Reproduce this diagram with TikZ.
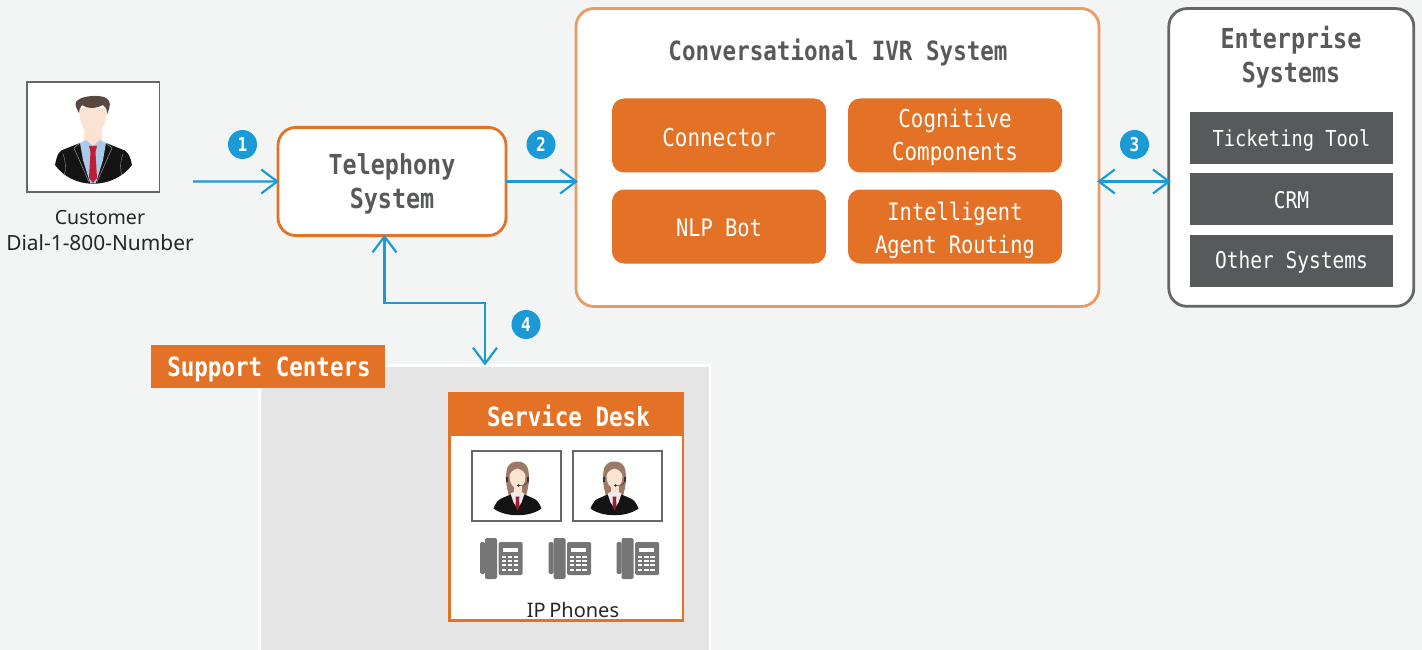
\documentclass[tikz,border=0pt]{standalone}
\usepackage{fontspec}
\setmainfont{Noto Sans}
\newfontfamily\dispfont[FakeStretch=0.85]{DejaVu Sans Mono}
\usetikzlibrary{arrows.meta}
\definecolor{pagebg}{HTML}{F3F5F4}
\definecolor{orng}{HTML}{E37227}
\definecolor{orngsoft}{HTML}{EA9A62}
\definecolor{blueline}{HTML}{1B9AD6}
\definecolor{slate}{HTML}{58595B}
\definecolor{framegrey}{HTML}{666666}
\definecolor{supportbg}{HTML}{E5E5E5}
\definecolor{phonegrey}{HTML}{757575}
\definecolor{suit}{HTML}{141414}
\definecolor{skin}{HTML}{FBE3D4}
\definecolor{manhair}{HTML}{57493F}
\definecolor{ladyhair}{HTML}{9C7866}
\definecolor{shirtblue}{HTML}{A9CBE8}
\definecolor{tiered}{HTML}{BE1E36}
\tikzset{
  x=1pt,y=-1pt,
  every node/.style={outer sep=0pt,inner sep=0pt},
  link/.style={draw=blueline,line width=2.2pt,line join=miter},
  tip/.style={-{Straight Barb[length=16pt,width=24pt,line width=2.2pt]}},
  twotip/.style={{Straight Barb[length=16pt,width=24pt,line width=2.2pt]}-{Straight Barb[length=16pt,width=24pt,line width=2.2pt]}},
  badge/.style={circle,fill=blueline,minimum size=29pt,text=white,font=\dispfont\bfseries\fontsize{19}{19}\selectfont},
  outerbox/.style={draw,fill=white,line width=2.8pt,rounded corners=18pt,anchor=north west},
  innerbox/.style={fill=orng,rounded corners=12pt,minimum width=214pt,minimum height=74pt},
  innertext/.style={text=white,align=center,font=\dispfont\fontsize{24.6}{33}\selectfont},
  darkbar/.style={fill=slate,minimum width=203pt,minimum height=52pt},
  bartext/.style={text=white,font=\dispfont\fontsize{23}{26}\selectfont},
  boxtitle/.style={text=slate,align=center,font=\dispfont\bfseries\fontsize{27.5}{34}\selectfont},
  bandbox/.style={fill=orng,minimum height=43.3pt},
  bandtext/.style={text=white,font=\dispfont\bfseries\fontsize{26.5}{30}\selectfont},
  bodytext/.style={text=black!85,align=center,font=\fontsize{20.9}{26}\selectfont},
  photo/.style={draw=framegrey,fill=white,line width=1.2pt,anchor=north west},
  manicon/.pic={
    \fill[skin] (-14,-32) .. controls (-14,-15) and (-6,-2) .. (0,-2) .. controls (6,-2) and (14,-15) .. (14,-32) -- cycle;
    \fill[skin] (-9,-8) -- (9,-8) -- (9,3) -- (0,8) -- (-9,3) -- cycle;
    \fill[suit] (-38,25) .. controls (-36,15) and (-34,10) .. (-28,9) -- (-13,3) -- (0,20) -- (13,3) -- (28,9) .. controls (34,10) and (37,15) .. (39,25) .. controls (20,50) and (-20,50) .. (-38,25) -- cycle;
    \fill[shirtblue] (-13,3) -- (-7,0) -- (0,6) -- (7,0) -- (13,3) -- (10,20) -- (3,43) -- (-3,43) -- (-10,20) -- cycle;
    \fill[suit] (-13,3) -- (-19,8) -- (-14,16) -- (-3,43) -- (-15,41) -- cycle;
    \fill[suit] (13,3) -- (19,8) -- (14,16) -- (3,43) -- (15,41) -- cycle;
    \draw[white!60!black,line width=.5pt] (-13,3) -- (-19,8) -- (-4,42) (13,3) -- (19,8) -- (4,42);
    \draw[white!60!black,line width=.4pt] (-30,14) .. controls (-27,22) and (-27,30) .. (-29,36) (30,14) .. controls (27,22) and (27,30) .. (29,36);
    \fill[tiered] (-4,6) -- (4,6) -- (2.5,12) -- (4,38) -- (0,43) -- (-4,38) -- (-2.5,12) -- cycle;
    \fill[manhair] (-14,-27) .. controls (-18,-34) and (-19,-38) .. (-15,-40) .. controls (-9,-45) and (9,-45) .. (13,-42) .. controls (18,-39) and (18,-34) .. (14,-26) .. controls (14,-31) and (13,-33) .. (10,-35) .. controls (2,-31) and (-6,-31) .. (-11,-35) .. controls (-13,-33) and (-14,-30) .. (-14,-27) -- cycle;
  },
  ladyicon/.pic={
    \fill[ladyhair] (-8,1) .. controls (-12,-12) and (-12,-20) .. (-11,-25) .. controls (-10,-33) and (-5,-35) .. (0,-35) .. controls (5,-35) and (10,-33) .. (11,-25) .. controls (12,-20) and (12,-12) .. (8,1) -- cycle;
    \fill[skin] (-8,-20) .. controls (-8,-13) and (-4,-8) .. (0,-8) .. controls (4,-8) and (8,-13) .. (8,-20) .. controls (8,-24) and (4,-27) .. (0,-28) .. controls (-4,-27) and (-8,-24) .. (-8,-20) -- cycle;
    \fill[skin] (-4,-11) rectangle (4,-3);
    \fill[suit] (-24,12) .. controls (-22,7) and (-20,3) .. (-14,1) -- (-7,-2) -- (0,8) -- (7,-2) -- (14,1) .. controls (20,3) and (22,7) .. (24,12) .. controls (12,21) and (-12,21) .. (-24,12) -- cycle;
    \fill[white!92!black] (-7,-3) -- (-3,-5) -- (0,-3) -- (3,-5) -- (7,-3) -- (4,6) -- (0,12) -- (-4,6) -- cycle;
    \fill[tiered!85!black] (-2,0) -- (2,0) -- (1.6,3) -- (2,10) -- (0,14) -- (-2,10) -- (-1.6,3) -- cycle;
    \fill[black!80] (-11.5,-20) rectangle (-9.5,-15);
    \fill[black!80] (9.5,-20) rectangle (11.5,-15);
    \draw[black!80,line width=.5pt] (10,-15) .. controls (9,-11) and (5,-11) .. (2,-11);
    \fill[black!80] (1,-11) circle (1.3);
  },
  deskphone/.pic={
    \fill[phonegrey,rounded corners=1.5pt] (0,4) rectangle (5,36);
    \fill[phonegrey,rounded corners=2pt] (5,0) rectangle (17,41);
    \fill[phonegrey,rounded corners=1.5pt] (18.5,4) rectangle (42.5,37);
    \fill[white] (22.5,9.7) rectangle (37.7,14.3);
    \foreach \cc in {0,1,2} \foreach \rr in {0,1,2,3}
      \fill[white] (21.5+\cc*6.2,18+\rr*4.2) rectangle ++(4.3,2);
  }
}
\begin{document}
\begin{tikzpicture}
\useasboundingbox (0,0) rectangle (1422,650);
\fill[pagebg] (0,0) rectangle (1422,650);

% customer
\node[photo,minimum width=132.5pt,minimum height=110pt] (custphoto) at (27,82) {};
\pic at (93,140) {manicon};
\node[bodytext] (custlabel) at (100,231) {{\fontsize{19.6}{26}\selectfont Customer}\\Dial-1-800-Number};
\coordinate (custout) at (193,181.5);

% telephony
\node[outerbox,draw=orng,minimum width=228pt,minimum height=108.2pt] (tele) at (278,127.4) {};
\node[boxtitle] (teletext) at (392,184) {Telephony\\System};

% IVR
\node[outerbox,draw=orngsoft,minimum width=523pt,minimum height=298pt] (ivr) at (576,8.5) {};
\node[boxtitle,font=\dispfont\bfseries\fontsize{26.5}{34}\selectfont] (ivrtitle) at (838,52.5) {Conversational IVR System};
\node[innerbox] (connector) at (719,135.5) {};
\node[innerbox] (cognitive) at (955,135.5) {};
\node[innerbox] (nlp) at (719,226.5) {};
\node[innerbox] (routing) at (955,226.5) {};
\node[innertext] (connectortext) at (719,137.5) {Connector};
\node[innertext] (cognitivetext) at (955,137.5) {Cognitive\\Components};
\node[innertext,font=\dispfont\fontsize{24}{33}\selectfont] (nlptext) at (719,228) {NLP Bot};
\node[innertext,font=\dispfont\fontsize{24}{33}\selectfont] (routingtext) at (955,230) {Intelligent\\Agent Routing};

% enterprise
\node[outerbox,draw=framegrey,minimum width=245pt,minimum height=297.7pt] (ent) at (1168.8,8.6) {};
\node[boxtitle] (enttitle) at (1291,57) {Enterprise\\Systems};
\node[darkbar] (ticket) at (1291.5,138) {};
\node[darkbar] (crm) at (1291.5,199) {};
\node[darkbar] (othersys) at (1291.5,261) {};
\node[bartext,font=\dispfont\fontsize{22}{26}\selectfont] (tickettext) at (1291.5,140.5) {Ticketing Tool};
\node[bartext] (crmtext) at (1291.5,200) {CRM};
\node[bartext] (othertext) at (1291.5,262) {Other Systems};

% support centres
\node[draw=white,fill=supportbg,line width=2.6pt,anchor=north west,minimum width=450.5pt,minimum height=300pt] (support) at (259.6,365.5) {};
\node[bandbox,minimum width=234pt,anchor=north west] (supporttag) at (151,345) {};
\node[bandtext] (supporttext) at (269,369.5) {Support Centers};

% service desk
\node[draw=orng,fill=white,line width=2.7pt,anchor=north west,minimum width=233.3pt,minimum height=227pt] (desk) at (449.7,393.7) {};
\node[bandbox,minimum width=235.5pt,anchor=north west] (deskband) at (448.8,392.7) {};
\node[bandtext] (desktext) at (568.5,415.5) {Service Desk};
\node[photo,minimum width=89pt,minimum height=70pt] (agent1) at (472,451) {};
\node[photo,minimum width=89pt,minimum height=70pt] (agent2) at (573,451) {};
\pic at (517.5,496.5) {ladyicon};
\pic at (614.5,496.5) {ladyicon};
\pic at (480,538) {deskphone};
\pic at (548.5,538) {deskphone};
\pic at (616.5,538) {deskphone};
\node[bodytext,font=\fontsize{20}{26}\selectfont] (phones) at (573,610) {IP\hspace{3.5pt}Phones};

% connectors
\draw[link,tip,shorten >=-1pt] (custout) -- (tele.west);
\draw[link,tip,shorten >=-2pt] (tele.east) -- (tele.east -| ivr.west);
\draw[link,twotip,shorten >=-2pt,shorten <=-2pt] (tele.east -| ivr.east) -- (tele.east -| ent.west);
\coordinate (bend) at (384.5,303.2);
\coordinate (supporttop) at (485,365.5);
\draw[link,twotip,shorten <=-1pt] (tele.south -| bend) -- (bend) -| (supporttop);

% badges
\node[badge] (b1) at (242.5,144.5) {1};
\node[badge] (b2) at (541,144.5) {2};
\node[badge] (b3) at (1134.5,144.5) {3};
\node[badge] (b4) at (526,324.5) {4};
\end{tikzpicture}
\end{document}
